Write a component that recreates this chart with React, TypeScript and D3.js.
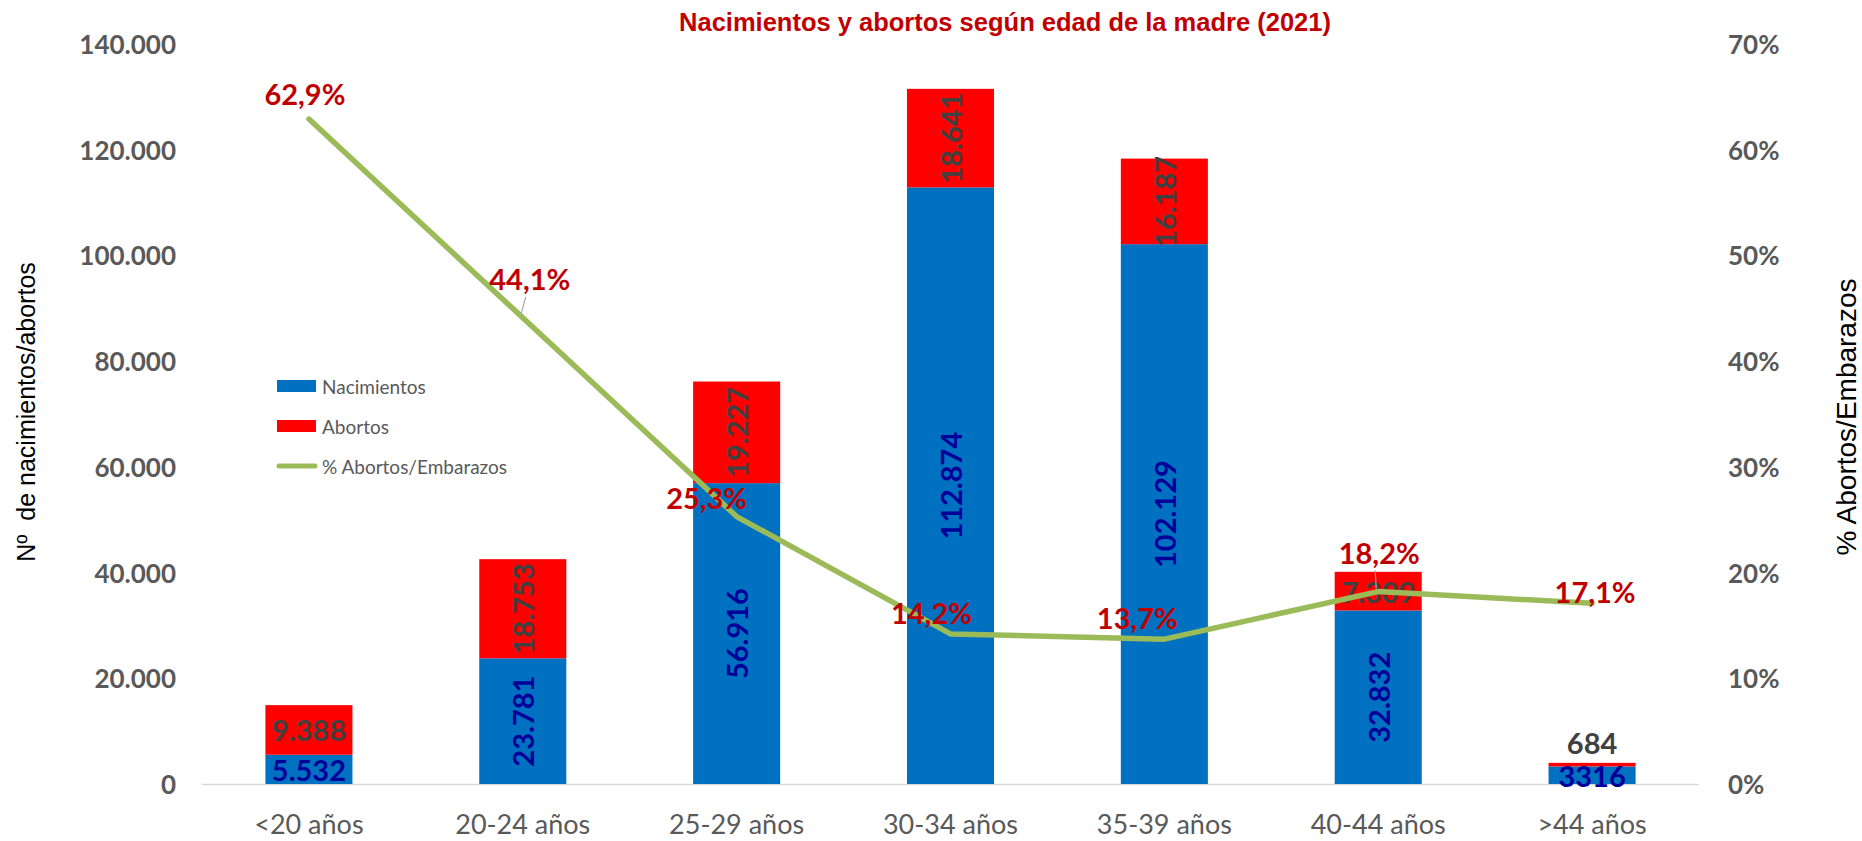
import { useEffect, useRef } from "react";
import * as d3 from "d3";

const categories = ["<20 años", "20-24 años", "25-29 años", "30-34 años", "35-39 años", "40-44 años", ">44 años"];
const nacimientos = [5532, 23781, 56916, 112874, 102129, 32832, 3316];
const abortos = [9388, 18753, 19227, 18641, 16187, 7309, 684];
const pctAbortos = [0.629, 0.441, 0.253, 0.142, 0.137, 0.182, 0.171];
const leftTicks = [0, 20000, 40000, 60000, 80000, 100000, 120000, 140000];
const rightTicks = [0, 0.1, 0.2, 0.3, 0.4, 0.5, 0.6, 0.7];
const seriesNames = ["Nacimientos", "Abortos", "% Abortos/Embarazos"];

export default function App() {
  const chartRef = useRef<SVGSVGElement>(null);

  useEffect(() => {
    const width = 1862;
    const height = 841;
    const left = 202;
    const right = 1699;
    const top = 44;
    const bottom = 784;

    const es = d3.formatLocale({ decimal: ",", thousands: ".", grouping: [3], currency: ["", " €"] });
    const fmtNum = es.format(",d");
    const fmtPct1 = es.format(".1%");
    const fmtPct0 = es.format(".0%");

    const blue = "#0070C0";
    const red = "#FF0000";
    const green = "#9BBB59";
    const gray = "#595959";
    const calibri = "Lato, 'Open Sans', sans-serif";
    const arial = "'Liberation Sans', Arial, sans-serif";

    const x = d3.scaleBand().domain(categories).range([left, right]).paddingInner(0.593).paddingOuter(0.2965);
    const y = d3.scaleLinear().domain([0, 140000]).range([bottom, top]);
    const y2 = d3.scaleLinear().domain([0, 0.7]).range([bottom, top]);

    const svg = d3.select(chartRef.current);
    svg.selectAll("*").remove();
    svg.attr("width", width).attr("height", height);

    svg.append("rect").attr("width", width).attr("height", height).attr("fill", "#fff");

    // axis line
    svg.append("line")
      .attr("x1", left).attr("x2", right)
      .attr("y1", bottom + 0.5).attr("y2", bottom + 0.5)
      .attr("stroke", "#D9D9D9").attr("stroke-width", 1.5);

    // left ticks
    svg.append("g").selectAll("text").data(leftTicks).enter().append("text")
      .attr("x", 176).attr("y", (d) => y(d))
      .attr("text-anchor", "end").attr("dominant-baseline", "central")
      .style("font-family", calibri).style("font-weight", "bold").style("font-size", "26px")
      .attr("fill", gray)
      .text((d) => fmtNum(d));

    // right ticks
    svg.append("g").selectAll("text").data(rightTicks).enter().append("text")
      .attr("x", 1728).attr("y", (d) => y2(d))
      .attr("text-anchor", "start").attr("dominant-baseline", "central")
      .style("font-family", calibri).style("font-weight", "bold").style("font-size", "26px")
      .attr("fill", gray)
      .text((d) => fmtPct0(d));

    // category labels
    svg.append("g").selectAll("text").data(categories).enter().append("text")
      .attr("x", (d) => x(d)! + x.bandwidth() / 2).attr("y", 823)
      .attr("text-anchor", "middle").attr("dominant-baseline", "central")
      .style("font-family", calibri).style("font-size", "27px")
      .attr("fill", gray)
      .text((d) => d);

    // stacked bars
    const rows = categories.map((c, i) => ({ c, nac: nacimientos[i], abo: abortos[i], i }));
    const bars = svg.append("g");
    bars.selectAll(".nac").data(rows).enter().append("rect")
      .attr("class", "nac")
      .attr("x", (d) => x(d.c)!).attr("width", x.bandwidth())
      .attr("y", (d) => y(d.nac)).attr("height", (d) => bottom - y(d.nac))
      .attr("fill", blue);
    bars.selectAll(".abo").data(rows).enter().append("rect")
      .attr("class", "abo")
      .attr("x", (d) => x(d.c)!).attr("width", x.bandwidth())
      .attr("y", (d) => y(d.nac + d.abo)).attr("height", (d) => y(d.nac) - y(d.nac + d.abo))
      .attr("fill", red);

    // bar value labels
    const labelFont = (sel: any) =>
      sel.style("font-family", calibri).style("font-weight", "bold").style("font-size", "29px")
        .attr("text-anchor", "middle").attr("dominant-baseline", "central");

    rows.forEach((d) => {
      const cx = x(d.c)! + x.bandwidth() / 2;
      // nacimientos
      const n0 = y(0), n1 = y(d.nac);
      const nTxt = d.i === categories.length - 1 ? String(d.nac) : fmtNum(d.nac);
      const nh = n0 - n1;
      const nt = svg.append("text").call(labelFont).attr("fill", "#000099").text(nTxt);
      if (nh > 60) nt.attr("transform", `translate(${cx},${(n0 + n1) / 2}) rotate(-90)`);
      else nt.attr("x", cx).attr("y", (n0 + n1) / 2);
      // abortos
      const a0 = n1, a1 = y(d.nac + d.abo);
      const ah = a0 - a1;
      const at = svg.append("text").call(labelFont).attr("fill", "#404040").text(fmtNum(d.abo));
      if (ah > 60) at.attr("transform", `translate(${cx},${(a0 + a1) / 2}) rotate(-90)`);
      else if (ah > 15) at.attr("x", cx).attr("y", (a0 + a1) / 2);
      else at.attr("x", cx).attr("y", a1 - 20);
    });

    // line
    const line = d3.line<number>()
      .x((_, i) => x(categories[i])! + x.bandwidth() / 2)
      .y((d) => y2(d));
    svg.append("path")
      .attr("d", line(pctAbortos))
      .attr("fill", "none").attr("stroke", green).attr("stroke-width", 5.5)
      .attr("stroke-linejoin", "round").attr("stroke-linecap", "round");

    // percentage labels
    const pctOffsets = [[-4, -26], [7, -39], [-30, -19], [-19, -21], [-27, -22], [1, -39], [3, -12]];
    const leaders = [1, 5];
    pctAbortos.forEach((p, i) => {
      const px = x(categories[i])! + x.bandwidth() / 2;
      const py = y2(p);
      const [dx, dy] = pctOffsets[i];
      if (leaders.includes(i)) {
        svg.append("line")
          .attr("x1", px + dx - 4).attr("y1", py + dy + 18)
          .attr("x2", px - 2).attr("y2", py - 3)
          .attr("stroke", "#A6A6A6").attr("stroke-width", 1.2);
      }
      svg.append("text").call(labelFont).attr("fill", "#C00000")
        .attr("x", px + dx).attr("y", py + dy)
        .text(fmtPct1(p));
    });

    // legend
    const legend = svg.append("g").attr("transform", "translate(277, 386)");
    seriesNames.forEach((name, i) => {
      const g = legend.append("g").attr("transform", `translate(0, ${i * 40})`);
      if (i < 2) {
        g.append("rect").attr("x", 0).attr("y", -6).attr("width", 39).attr("height", 12)
          .attr("fill", i === 0 ? blue : red);
      } else {
        g.append("line").attr("x1", 2).attr("x2", 38).attr("y1", 0).attr("y2", 0)
          .attr("stroke", green).attr("stroke-width", 5).attr("stroke-linecap", "round");
      }
      g.append("text").attr("x", 45).attr("y", 0).attr("dominant-baseline", "central")
        .style("font-family", calibri).style("font-size", "19px").attr("fill", gray)
        .text(name);
    });

    // axis titles
    svg.append("text")
      .attr("transform", "translate(26, 412) rotate(-90)")
      .attr("text-anchor", "middle").attr("dominant-baseline", "central")
      .style("font-family", arial).style("font-size", "25px").style("white-space", "pre")
      .attr("fill", "#000")
      .text("Nº  de nacimientos/abortos");
    svg.append("text")
      .attr("transform", "translate(1846, 417) rotate(-90)")
      .attr("text-anchor", "middle").attr("dominant-baseline", "central")
      .style("font-family", arial).style("font-size", "28px").attr("fill", "#000")
      .text("% Abortos/Embarazos");

    // title
    svg.append("text")
      .attr("x", 1005).attr("y", 22)
      .attr("text-anchor", "middle").attr("dominant-baseline", "central")
      .style("font-family", arial).style("font-weight", "bold").style("font-size", "25.5px")
      .attr("fill", "#C00000")
      .text("Nacimientos y abortos según edad de la madre (2021)");
  }, []);

  return <svg ref={chartRef} style={{ position: "absolute", left: 0, top: 0, display: "block" }} />;
}
